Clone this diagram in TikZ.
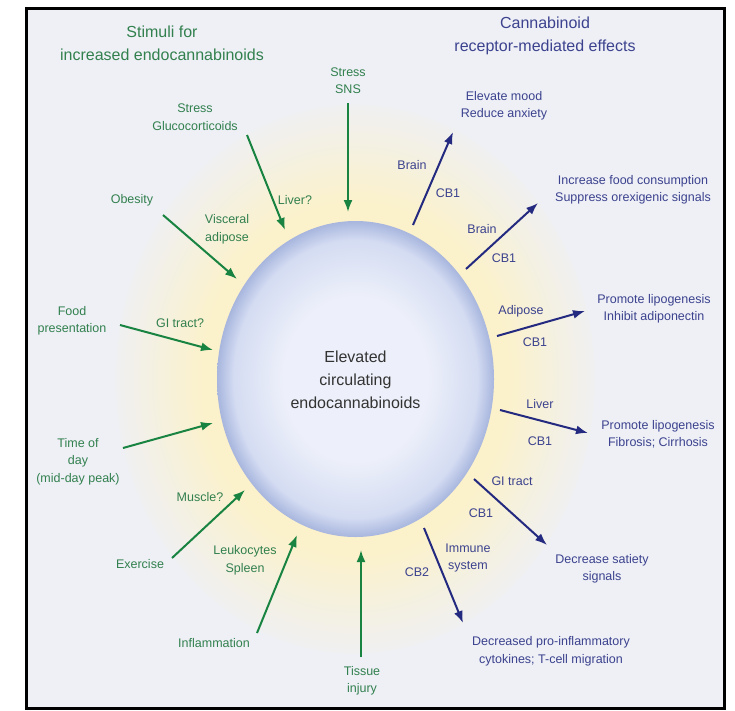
\documentclass[tikz,border=0pt]{standalone}
\usepackage{fontspec}
\setmainfont{Liberation Sans}
\usetikzlibrary{arrows.meta}
\definecolor{bgc}{RGB}{238,240,246}
\definecolor{glowc}{RGB}{251,241,203}
\definecolor{orbin}{RGB}{237,240,250}
\definecolor{orbmid}{RGB}{212,220,242}
\definecolor{orbout}{RGB}{168,182,222}
\definecolor{gcol}{RGB}{25,132,66}
\definecolor{gtext}{RGB}{50,128,78}
\definecolor{bcol}{RGB}{36,42,128}
\definecolor{btext}{RGB}{60,66,142}
\pgfdeclareradialshading{glow}{\pgfpoint{0bp}{0bp}}{color(0bp)=(glowc); color(16bp)=(glowc); color(26bp)=(bgc); color(50bp)=(bgc)}
\pgfdeclareradialshading{orb}{\pgfpoint{0bp}{0bp}}{color(0bp)=(orbin); color(13bp)=(orbin); color(22bp)=(orbmid); color(25bp)=(orbout); color(50bp)=(orbout)}
\tikzset{
  lab/.style={align=center, inner sep=0pt, font=\fontsize{12.5}{17.5}\selectfont},
  glab/.style={lab, text=gtext},
  blab/.style={lab, text=btext},
  head/.style={align=center, inner sep=0pt, font=\fontsize{16}{23}\selectfont},
  garrow/.style={->, draw=gcol, fill=gcol, line width=2pt},
  barrow/.style={->, draw=bcol, fill=bcol, line width=2pt}
}
\begin{document}
\begin{tikzpicture}[x=1pt, y=-1pt, >={Latex[length=12pt,width=9pt]}]
\useasboundingbox (0,0) rectangle (735,710);
\fill[bgc] (26,8.5) rectangle (724.5,708);
\shade[shading=glow] (355,379) ellipse (240 and 275);
\shade[shading=orb] (355.5,379) ellipse (138.5 and 158);
\draw[line width=3pt] (26,8.5) rectangle (724.5,708);

\node (orb) at (355.5,380)[head, text=black!80]{Elevated\\circulating\\endocannabinoids};

% stimuli
\node (H1) at (162,43.5)[head, text=gtext]{Stimuli for\\increased endocannabinoids};
\node (sns) at (348,80.5)[glab]{Stress\\SNS};
\node (glu) at (195,117)[glab]{Stress\\Glucocorticoids};
\node (liv) at (295,200)[glab]{Liver?};
\node (obe) at (132,200)[glab]{Obesity};
\node (vis) at (227,229.5)[glab]{Visceral\\adipose};
\node (food) at (72,321)[glab]{Food\\presentation};
\node (git) at (180,323)[glab]{GI tract?};
\node (time) at (78,461.5)[glab]{Time of\\day\\(mid-day peak)};
\node (mus) at (200,497)[glab]{Muscle?};
\node (exe) at (140,564)[glab]{Exercise};
\node (leu) at (245,560.5)[glab]{Leukocytes\\Spleen};
\node (inf) at (214,643)[glab]{Inflammation};
\node (tis) at (362,681)[glab]{Tissue\\injury};

\foreach \n/\sx/\sy/\ex/\ey in {1/348/103/348/212, 2/247/135/285/230, 3/163/215/237/279, 4/120/325/213/350,
    5/123/448/213/423, 6/172/558/245/490, 7/257/633/297/535, 8/361/657/361/550}
{
    \coordinate (gs\n) at (\sx,\sy);
    \coordinate (ge\n) at (\ex,\ey);
    \draw[garrow] (gs\n)--(ge\n);
}

% effects
\node (H2) at (545,36)[head, text=btext]{Cannabinoid\\receptor-mediated effects};
\node (E1) at (504,106)[blab]{Elevate mood\\Reduce anxiety};
\node (E2) at (633,190)[blab]{Increase food consumption\\Suppress orexigenic signals};
\node (E3) at (654,309)[blab]{Promote lipogenesis\\Inhibit adiponectin};
\node (E4) at (658,434.5)[blab]{Promote lipogenesis\\Fibrosis; Cirrhosis};
\node (E5) at (602,569)[blab]{Decrease satiety\\signals};
\node (E6) at (551,651.5)[blab]{Decreased pro-inflammatory\\cytokines; T-cell migration};

\foreach \n/\x/\y/\xtext in {1/412/165/Brain, 2/448/193/CB1, 3/482/229/Brain, 4/504/258/CB1, 5/521/311/Adipose,
    6/535/342/CB1, 7/540/404/Liver, 8/540/441/CB1, 9/512/481/GI tract, 10/481/513/CB1, 11/417/572/CB2}
{
    \node (T\n) at (\x,\y)[blab]{\xtext};
}
\node (T12) at (468,558)[blab]{Immune\\system};

\foreach \n/\sx/\sy/\ex/\ey in {1/413/225/453/132, 2/466/269/538/203, 3/497/336/585/311, 4/500/410/588/433,
    5/474/479/547/545, 6/424/528/463/623}
{
    \coordinate (bs\n) at (\sx,\sy);
    \coordinate (be\n) at (\ex,\ey);
    \draw[barrow] (bs\n)--(be\n);
}
\end{tikzpicture}
\end{document}
